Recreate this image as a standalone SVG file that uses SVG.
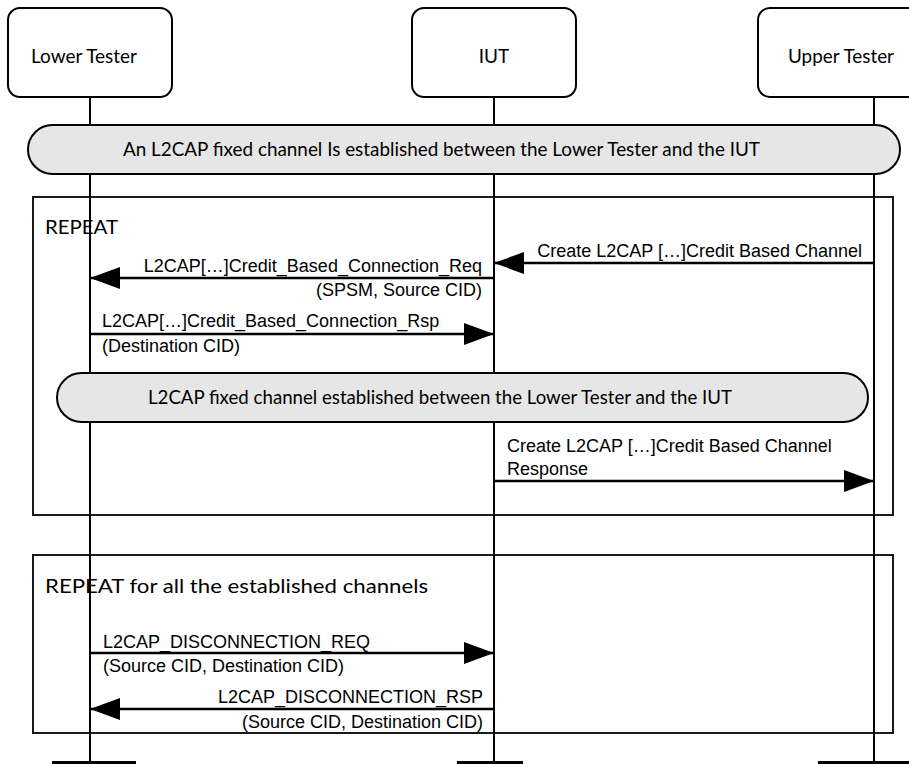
<svg xmlns="http://www.w3.org/2000/svg" width="909" height="764" viewBox="0 0 909 764">
<style>
.box{fill:#fff;stroke:#000;stroke-width:2}
.life{stroke:#000;stroke-width:2}
.frame{fill:none;stroke:#1a1a1a;stroke-width:2}
.pill{fill:#e6e6e6;stroke:#000;stroke-width:2}
.cal{font-family:Lato,"Open Sans",sans-serif;font-size:19px;fill:#000}
.msg{font-family:"Liberation Sans",Arial,sans-serif;font-size:18px;fill:#000}
.arr{stroke:#000;stroke-width:2.5;fill:none;marker-end:url(#ah)}
.bar{fill:#000}
</style>
<defs>
<marker id="ah" markerUnits="userSpaceOnUse" markerWidth="30" markerHeight="22" refX="30" refY="11" orient="auto">
<path d="M0,0 L30,11 L0,22 Z" fill="#000"/>
</marker>
</defs>
<rect x="0" y="0" width="909" height="764" fill="#fff"/>
<g id="frames">
<rect class="frame" x="33" y="197" width="860" height="318"/>
<text class="cal" x="45" y="234" textLength="73" lengthAdjust="spacingAndGlyphs">REPEAT</text>
<rect class="frame" x="33" y="555" width="860" height="178"/>
<text class="cal" x="45" y="593" textLength="383" lengthAdjust="spacingAndGlyphs">REPEAT for all the established channels</text>
</g>
<g id="lifelines">
<line class="life" x1="90" y1="97" x2="90" y2="764"/>
<line class="life" x1="494" y1="97" x2="494" y2="764"/>
<line class="life" x1="874" y1="97" x2="874" y2="764"/>
</g>
<g id="lower-tester">
<rect class="box" x="8" y="8" width="164" height="89" rx="12"/>
<text class="cal" x="31" y="63" textLength="106" lengthAdjust="spacingAndGlyphs">Lower Tester</text>
<rect class="bar" x="52" y="761" width="84" height="4"/>
</g>
<g id="iut">
<rect class="box" x="412" y="8" width="164" height="89" rx="12"/>
<text class="cal" x="494" y="63" text-anchor="middle">IUT</text>
<rect class="bar" x="457" y="761" width="66" height="4"/>
</g>
<g id="upper-tester">
<rect class="box" x="758" y="8" width="170" height="89" rx="12"/>
<text class="cal" x="788" y="63" textLength="106" lengthAdjust="spacingAndGlyphs">Upper Tester</text>
<rect class="bar" x="818" y="761" width="95" height="4"/>
</g>
<g id="banner1">
<rect class="pill" x="28" y="125" width="872" height="49" rx="24.5"/>
<text class="cal" x="123" y="156" textLength="637" lengthAdjust="spacingAndGlyphs">An L2CAP fixed channel Is established between the Lower Tester and the IUT</text>
</g>
<g id="banner2">
<rect class="pill" x="57" y="373" width="811" height="49" rx="24.5"/>
<text class="cal" x="148" y="404" textLength="584" lengthAdjust="spacingAndGlyphs">L2CAP fixed channel established between the Lower Tester and the IUT</text>
</g>
<g id="connectors">
<line class="arr" x1="874" y1="263" x2="494" y2="263"/>
<text class="msg" x="862" y="257" text-anchor="end">Create L2CAP […]Credit Based Channel</text>
<line class="arr" x1="494" y1="278" x2="90" y2="278"/>
<text class="msg" x="482" y="272" text-anchor="end">L2CAP[…]Credit_Based_Connection_Req</text>
<text class="msg" x="482" y="296" text-anchor="end">(SPSM, Source CID)</text>
<line class="arr" x1="90" y1="334" x2="494" y2="334"/>
<text class="msg" x="102" y="327">L2CAP[…]Credit_Based_Connection_Rsp</text>
<text class="msg" x="102" y="352">(Destination CID)</text>
<line class="arr" x1="494" y1="481" x2="874" y2="481"/>
<text class="msg" x="507" y="452">Create L2CAP […]Credit Based Channel</text>
<text class="msg" x="507" y="475">Response</text>
<line class="arr" x1="90" y1="653" x2="494" y2="653"/>
<text class="msg" x="103" y="648">L2CAP_DISCONNECTION_REQ</text>
<text class="msg" x="103" y="672">(Source CID, Destination CID)</text>
<line class="arr" x1="494" y1="709" x2="90" y2="709"/>
<text class="msg" x="483" y="703" text-anchor="end">L2CAP_DISCONNECTION_RSP</text>
<text class="msg" x="483" y="728" text-anchor="end">(Source CID, Destination CID)</text>
</g>
</svg>
